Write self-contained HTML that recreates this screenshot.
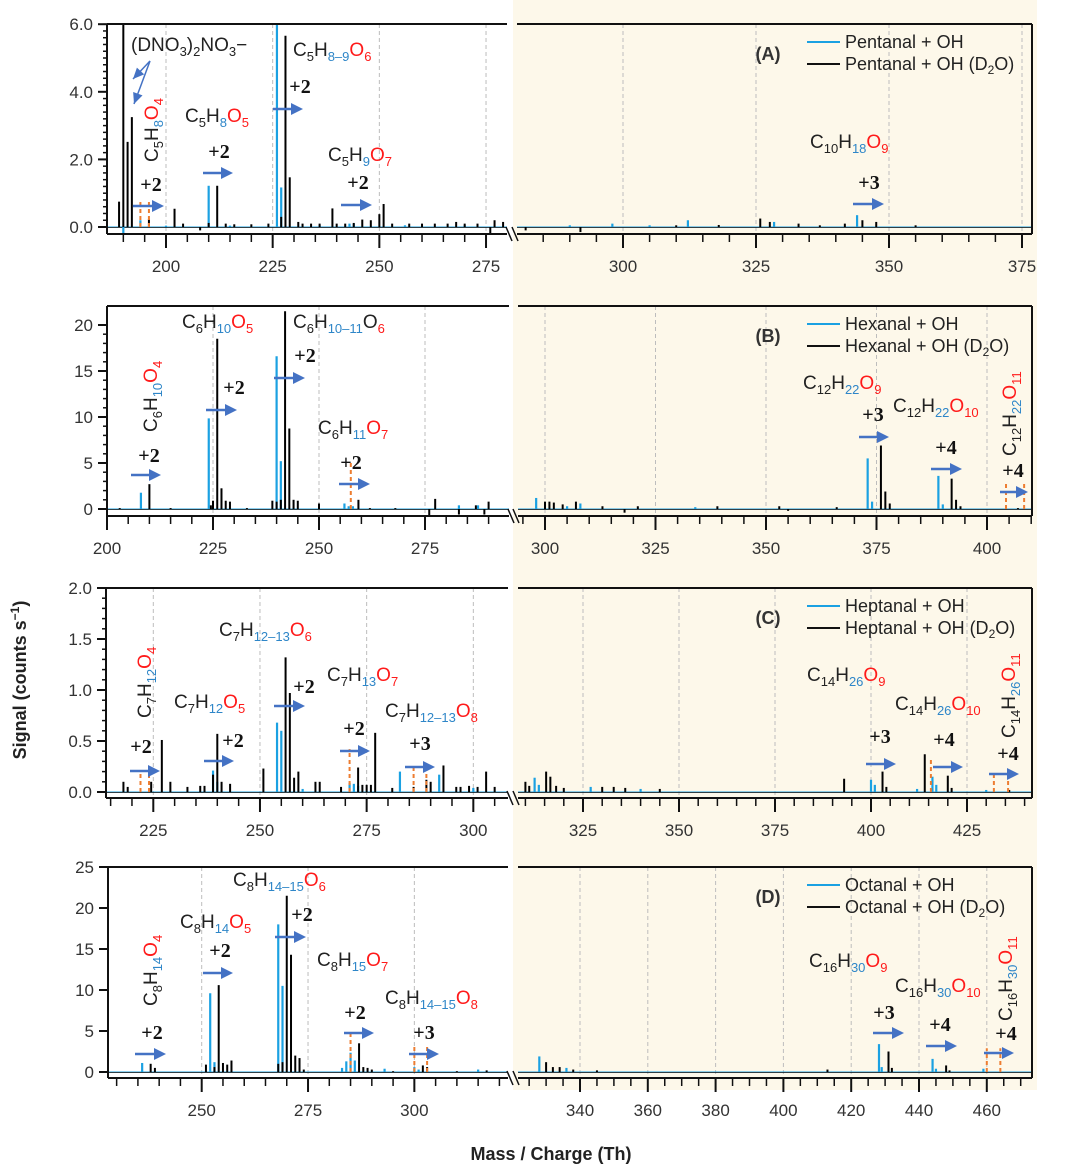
<!DOCTYPE html>
<html><head><meta charset="utf-8">
<style>
html,body{margin:0;padding:0;background:#fff;}
svg{display:block;font-family:"Liberation Sans",sans-serif;}
.tk{font-size:17px;fill:#333;}
.pl{font-family:"Liberation Serif",serif;font-size:20px;font-weight:bold;fill:#111;}
.lg{font-size:18px;fill:#222;}
</style></head>
<body>
<svg id="chart" width="1077" height="1164" viewBox="0 0 1077 1164" xmlns="http://www.w3.org/2000/svg">
<rect x="513" y="0" width="524" height="1090" fill="#FDF8EA"/>
<g id="layer"></g>
<text x="0" y="0" transform="translate(26,680) rotate(-90)" text-anchor="middle" font-size="18" font-weight="bold" fill="#222">Signal (counts s<tspan font-size="12" dy="-7">−1</tspan><tspan dy="7">)</tspan></text>
<text x="551" y="1160" text-anchor="middle" font-size="18" font-weight="bold" fill="#222">Mass / Charge (Th)</text>
</svg>
<script>
// ===== DATA (mass, signal) =====
const aLeftBlue=[[190,-0.25],[194,0.2],[210,1.22],[226,6.2],[227,1.17],[243,0.1],[244,0.1],[200,0.04],[215,0.04],[236,0.05],[256,0.05],[270,0.05]];
const aLeftBlack=[[189,0.75],[190,6.5],[191,2.52],[192,3.25],[196,0.24],[202,0.54],[208,-0.1],[212,1.22],[227,0.3],[228,5.66],[229,1.47],[231,0.15],[239,0.55],[246,0.22],[248,0.2],[250,0.38],[251,0.68],[276,-0.3],[277,0.2],[204,0.1],[210,0.12],[214,0.1],[216,0.08],[220,0.08],[224,0.1],[232,0.1],[234,0.1],[236,0.1],[240,0.1],[242,0.1],[244,0.12],[253,0.1],[257,0.1],[260,0.1],[263,0.1],[266,0.1],[268,0.15],[270,0.1],[273,0.1],[279,0.15]];
const aRightBlue=[[298,0.1],[312.2,0.2],[328.4,0.15],[344,0.35],[290,0.05],[305,0.05]];
const aRightBlack=[[281.7,-0.1],[292,-0.15],[325.8,0.25],[327.6,0.15],[333,0.1],[341.7,0.1],[345,0.2],[347.6,0.15],[310,0.05],[318,0.06],[337,0.05],[355,0.05]];
const bLeftBlue=[[208,1.77],[224,9.85],[240,16.6],[241,5.2],[256,0.6],[257,0.3],[258,0.3],[283,0.4],[287.5,0.4]];
const bLeftBlack=[[210,2.7],[224.5,0.4],[225,0.9],[226,18.5],[227,2.25],[228,0.9],[229,0.8],[239,0.9],[240,0.8],[241,1.0],[242,21.5],[243,8.75],[244,1.0],[245,0.9],[250,0.6],[259.3,1.0],[276,-0.8],[277.4,1.1],[283,-0.6],[287,0.4],[289,-0.6],[290,0.8],[203,0.1],[215,0.1],[233,0.1],[262,0.1],[268,0.1]];
const bRightBlue=[[298,1.2],[308,0.6],[373,5.5],[374,0.8],[389,3.6],[390,0.5],[305,0.3],[334,0.2]];
const bRightBlack=[[300,0.8],[301,0.8],[302,0.7],[304,0.5],[307,0.8],[313,0.3],[318,-0.4],[321,0.3],[339,0.3],[353,0.3],[355,-0.2],[366,0.2],[376,6.9],[377,1.9],[378,0.6],[392,3.3],[393,1.0],[394,0.3],[407,0.1]];
const cLeftBlue=[[239,0.21],[240,0.1],[254,0.68],[255,0.6],[271,0.09],[272,0.08],[273,0.06],[282.8,0.2],[292,0.17],[260,0.03],[300,0.04]];
const cLeftBlack=[[218,0.1],[219,0.05],[224.5,0.1],[227,0.51],[229,0.1],[233,0.05],[236,0.06],[237,0.06],[239,0.17],[240,0.57],[241,0.1],[243,0.08],[250.8,0.23],[256,1.32],[257,0.97],[258,0.14],[259,0.2],[263,0.1],[264,0.1],[269,0.05],[273,0.24],[274,0.07],[275,0.07],[276,0.07],[277,0.58],[281,0.04],[286,0.05],[289,0.12],[290,0.1],[293,0.26],[296,0.05],[297,0.05],[299,0.06],[301,0.05],[303,0.2],[305,0.05]];
const cRightBlue=[[312.4,0.14],[313.5,0.07],[327,0.05],[340,0.03],[400,0.12],[401,0.07],[412,0.03],[416,0.15],[417,0.07],[430,0.02]];
const cRightBlack=[[310,0.1],[311,0.06],[315.4,0.2],[316.5,0.15],[318,0.06],[320,0.04],[330,0.05],[333,0.05],[336,0.04],[345,0.03],[393,0.13],[403,0.2],[404,0.05],[414,0.37],[420,0.16],[421,0.04],[436,0.02]];
const dLeftBlue=[[236,1.1],[252,9.6],[253,1.2],[268,18],[269,10.5],[283,0.5],[284,1.3],[285,2.35],[286,1.4],[293,0.4],[300,0.6],[301,0.3],[315,0.3]];
const dLeftBlack=[[238,1.0],[239,0.5],[251,0.9],[253,0.6],[254,10.6],[255,1.1],[256,0.9],[257,1.4],[268,1.0],[269,1.2],[270,21.5],[271,14.3],[272,2.0],[273,1.7],[274,0.3],[287,3.5],[288,0.6],[289,0.5],[290,0.3],[302,0.8],[303,0.6],[317,0.2],[295,0.1],[310,0.1]];
const dRightBlue=[[328,1.9],[336,0.5],[428.2,3.4],[429,0.6],[444,1.6],[445,0.4],[459,0.4]];
const dRightBlack=[[330,1.2],[332,0.6],[334,0.6],[338,0.3],[345,0.2],[413,0.3],[431,2.5],[432,0.5],[448,0.8],[449,0.2]];
// tick label arrays
const aYTicks=[0,2,4,6], aYLabels=["0.0","2.0","4.0","6.0"];
const bYTicks=[0,5,10,15,20], bYLabels=["0","5","10","15","20"];
const cYTicks=[0,0.5,1,1.5,2], cYLabels=["0.0","0.5","1.0","1.5","2.0"];
const dYTicks=[0,5,10,15,20,25], dYLabels=["0","5","10","15","20","25"];
const aLeftX=[200,225,250,275], aRightX=[300,325,350,375];
const bLeftX=[200,225,250,275], bRightX=[300,325,350,375,400];
const cLeftX=[225,250,275,300], cRightX=[325,350,375,400,425];
const dLeftX=[250,275,300], dRightX=[340,360,380,400,420,440,460];
// orange dashed markers [mass, top value]
const aLeftMarks=[[194,0.8],[196,0.8]];
const bLeftMarks=[[257.5,5]], bRightMarks=[[404.3,2.8],[408.4,2.8]];
const cLeftMarks=[[222,0.21],[224,0.21],[271,0.42],[286,0.25],[289,0.22]], cRightMarks=[[415.6,0.33],[432,0.2],[435.7,0.2]];
const dLeftMarks=[[285,4.9],[300,3.2],[303,3.2]], dRightMarks=[[460,2.9],[464,2.9]];

// ===== LAYOUT =====
const NS="http://www.w3.org/2000/svg";
const layer=document.getElementById('layer');
function el(tag,attrs,parent){const e=document.createElementNS(NS,tag);for(const k in attrs)e.setAttribute(k,attrs[k]);(parent||layer).appendChild(e);return e;}
const BLUE="#1BA1E2", ORANGE="#ED7D31", ARROW="#4472C4";

const panels=[
 {n:'a',top:24,zero:227,axisY:234,ppu:33.8,yt:aYTicks,yl:aYLabels,ymin:0.2,
  L:{x0:107,x1:507,rm:200,rx:166,ppm:4.267,ticks:aLeftX,blue:aLeftBlue,black:aLeftBlack,marks:aLeftMarks},
  R:{x0:517,x1:1032,rm:300,rx:623,ppm:5.32,ticks:aRightX,blue:aRightBlue,black:aRightBlack,marks:[]}},
 {n:'b',top:306,zero:509,axisY:516,ppu:9.2,yt:bYTicks,yl:bYLabels,ymin:1,
  L:{x0:107,x1:509,rm:200,rx:107,ppm:4.24,ticks:bLeftX,blue:bLeftBlue,black:bLeftBlack,marks:bLeftMarks},
  R:{x0:518,x1:1032,rm:300,rx:545,ppm:4.42,ticks:bRightX,blue:bRightBlue,black:bRightBlack,marks:bRightMarks}},
 {n:'c',top:588,zero:792,axisY:798,ppu:102,yt:cYTicks,yl:cYLabels,ymin:0.1,
  L:{x0:106,x1:508,rm:225,rx:153.3,ppm:4.267,ticks:cLeftX,blue:cLeftBlue,black:cLeftBlack,marks:cLeftMarks},
  R:{x0:518,x1:1032,rm:325,rx:583,ppm:3.84,ticks:cRightX,blue:cRightBlue,black:cRightBlack,marks:cRightMarks}},
 {n:'d',top:867,zero:1072,axisY:1078,ppu:8.2,yt:dYTicks,yl:dYLabels,ymin:0,
  L:{x0:108,x1:508,rm:250,rx:201.7,ppm:4.253,ticks:dLeftX,blue:dLeftBlue,black:dLeftBlack,marks:dLeftMarks},
  R:{x0:518,x1:1032,rm:340,rx:580,ppm:3.39,ticks:dRightX,blue:dRightBlue,black:dRightBlack,marks:dRightMarks}}
];

panels.forEach(p=>{
  const g=el('g',{});
  
  
  const yS=v=>p.zero-v*p.ppu;
  ['L','R'].forEach(side=>{
    const s=p[side];
    const xS=m=>s.rx+(m-s.rm)*s.ppm;
    const m0=s.rm+(s.x0-s.rx)/s.ppm, m1=s.rm+(s.x1-s.rx)/s.ppm;
    s.ticks.forEach(t=>{const x=xS(t);
      const gl=el('line',{x1:x,x2:x,y1:p.top,y2:p.axisY,stroke:'#bdbdbd','stroke-width':1,'stroke-dasharray':'4,3'},g);
      
      
    });
    el('line',{x1:s.x0,x2:s.x1,y1:p.zero,y2:p.zero,stroke:BLUE,'stroke-width':1},g);
    el('line',{x1:s.x0,x2:s.x1,y1:p.zero+0.5,y2:p.zero+0.5,stroke:'#111','stroke-width':0.8},g);
    const bar=(arr,color,w,nm)=>arr.forEach(d=>{
      if(d[0]<m0||d[0]>m1)return;
      const x=xS(d[0]);let y=yS(d[1]);y=Math.max(p.top,Math.min(p.axisY,y));
      const b=el('line',{x1:x,x2:x,y1:p.zero,y2:y,stroke:color,'stroke-width':w},g);
      
      
    });
    bar(s.blue,BLUE,2.2,'oh');
    bar(s.black,'#000',2,'oh-d2o');
    s.marks.forEach(d=>{const x=xS(d[0]);
      const mk=el('line',{x1:x,x2:x,y1:p.zero,y2:yS(d[1]),stroke:ORANGE,'stroke-width':2,'stroke-dasharray':'4,3'},g);
      
      
    });
    const ax=el('line',{x1:s.x0,x2:s.x1,y1:p.axisY,y2:p.axisY,stroke:'#111','stroke-width':2},g);
    
    
    el('line',{x1:s.x0,x2:s.x1,y1:p.top,y2:p.top,stroke:'#111','stroke-width':2},g);
    for(let m=Math.ceil(m0/5)*5;m<=m1;m+=5){const x=xS(m);
      const major=s.ticks.indexOf(m)>=0;
      el('line',{x1:x,x2:x,y1:p.axisY,y2:p.axisY+(major?14:8),stroke:'#111','stroke-width':major?2:1.5},g);}
    s.ticks.forEach((t,i)=>{
      const tl=el('text',{x:xS(t),y:p.axisY+38,'text-anchor':'middle',class:'tk'},g);
      tl.textContent=String(t);
      
      
    });
  });
  const x0=p.L.x0;
  const ya=el('line',{x1:x0,x2:x0,y1:p.top,y2:p.axisY,stroke:'#111','stroke-width':2},g);
  
  
  el('line',{x1:p.R.x1,x2:p.R.x1,y1:p.top,y2:p.axisY,stroke:'#111','stroke-width':2},g);
  const ymax=p.yt[p.yt.length-1];
  if(p.ymin>0){for(let v=0;v<=ymax+1e-9;v+=p.ymin){el('line',{x1:x0-4,x2:x0,y1:yS(v),y2:yS(v),stroke:'#111','stroke-width':1.5},g);}}
  p.yt.forEach((v,i)=>{
    el('line',{x1:x0-9,x2:x0,y1:yS(v),y2:yS(v),stroke:'#111','stroke-width':2},g);
    const t=el('text',{x:x0-14,y:yS(v)+6,'text-anchor':'end',class:'tk'},g);
    t.textContent=p.yl[i];
    
    
  });
  [p.L.x1+2,p.R.x0-2].forEach(bx=>{el('line',{x1:bx-3,x2:bx+3,y1:p.axisY-7,y2:p.axisY+7,stroke:'#111','stroke-width':1.5},g);});
});

// ===== ANNOTATIONS =====
const COL={k:'#222',b:'#2E86C8',r:'#FF1A1A'};
function fm(x,y,toks,rot,name){
  const t=el('text',{x:0,y:0,'font-size':19,transform:rot?`translate(${x},${y}) rotate(-90)`:`translate(${x},${y})`});
  
  
  let sub=false;
  toks.forEach(k=>{const s=el('tspan',{fill:COL[k[2]||'k']},t);
    if(k[1]&&!sub){s.setAttribute('dy',5);s.setAttribute('font-size',13);sub=true;}
    else if(k[1]){s.setAttribute('font-size',13);}
    else if(!k[1]&&sub){s.setAttribute('dy',-5);sub=false;}
    s.textContent=k[0];});
}
function F(c,h,o,hc,oc,ocSub){return [["C"],[c,1],["H"],[h,1,hc||'b'],["O",0,oc||'r'],[o,1,ocSub||'r']];}
fm(158,162,F("5","8","4"),true,'label-c5h8o4');
fm(185,122,F("5","8","5"),false,'label-c5h8o5');
fm(293,56,F("5","8–9","6"),false,'label-c5h8-9o6');
fm(328,161,F("5","9","7"),false,'label-c5h9o7');
fm(810,148,F("10","18","9"),false,'label-c10h18o9');
fm(182,328,F("6","10","5"),false,'label-c6h10o5');
fm(293,328,F("6","10–11","6",'b','k'),false,'label-c6h10-11o6');
fm(157,432,F("6","10","4"),true,'label-c6h10o4');
fm(318,434,F("6","11","7"),false,'label-c6h11o7');
fm(803,389,F("12","22","9"),false,'label-c12h22o9');
fm(893,412,F("12","22","10"),false,'label-c12h22o10');
fm(1016,456,F("12","22","11"),true,'label-c12h22o11');
fm(151,718,F("7","12","4"),true,'label-c7h12o4');
fm(174,708,F("7","12","5"),false,'label-c7h12o5');
fm(219,636,F("7","12–13","6"),false,'label-c7h12-13o6');
fm(327,681,F("7","13","7"),false,'label-c7h13o7');
fm(385,717,F("7","12–13","8"),false,'label-c7h12-13o8');
fm(807,681,F("14","26","9"),false,'label-c14h26o9');
fm(895,710,F("14","26","10"),false,'label-c14h26o10');
fm(1015,738,F("14","26","11"),true,'label-c14h26o11');
fm(157,1006,F("8","14","4"),true,'label-c8h14o4');
fm(180,928,F("8","14","5"),false,'label-c8h14o5');
fm(233,886,F("8","14–15","6"),false,'label-c8h14-15o6');
fm(317,966,F("8","15","7"),false,'label-c8h15o7');
fm(385,1004,F("8","14–15","8"),false,'label-c8h14-15o8');
fm(809,967,F("16","30","9"),false,'label-c16h30o9');
fm(895,992,F("16","30","10"),false,'label-c16h30o10');
fm(1012,1021,F("16","30","11"),true,'label-c16h30o11');
fm(131,51,[["(DNO"],["3",1],[")"],["2",1],["NO"],["3",1],["−",0]],false,'label-dno3-cluster');

const arrows=[[133,164,206],[203,233,173],[273,303,109],[341,372,205],[853,884,204],
 [131,161,475],[206,237,410],[274,305,378],[339,370,484],[859,889,437],[931,962,469],[1000,1028,492],
 [130,160,771],[204,234,761],[274,305,706],[340,370,751],[405,435,767],[866,896,764],[933,963,767],[989,1019,774],
 [135,166,1054],[203,233,973],[275,306,937],[344,374,1033],[409,439,1054],[873,904,1033],[926,957,1046],[984,1014,1053]];
arrows.forEach(a=>{
  const l=el('line',{x1:a[0],x2:a[1]-10,y1:a[2],y2:a[2],stroke:ARROW,'stroke-width':2.5});
  
  
  el('polygon',{points:`${a[1]-12},${a[2]-6} ${a[1]},${a[2]} ${a[1]-12},${a[2]+6}`,fill:ARROW});
});
const shifts=[[151,191,"2"],[219,158,"2"],[300,93,"2"],[358,189,"2"],[869,189,"3"],
 [149,462,"2"],[234,394,"2"],[305,362,"2"],[351,469,"2"],[873,421,"3"],[946,454,"4"],[1013,477,"4"],
 [141,753,"2"],[233,747,"2"],[304,693,"2"],[354,735,"2"],[420,750,"3"],[880,743,"3"],[944,746,"4"],[1008,760,"4"],
 [152,1039,"2"],[220,957,"2"],[302,921,"2"],[355,1019,"2"],[424,1039,"3"],[884,1019,"3"],[940,1031,"4"],[1006,1040,"4"]];
shifts.forEach(s=>{
  const t=el('text',{x:s[0],y:s[1],'text-anchor':'middle',class:'pl'});
  t.textContent='+'+s[2];
  
  
});
[[150,61,133,79],[150,61,134,104]].forEach(a=>{
  const l=el('line',{x1:a[0],y1:a[1],x2:a[2],y2:a[3],stroke:ARROW,'stroke-width':1.5});
  
  
  const ang=Math.atan2(a[3]-a[1],a[2]-a[0]),L=11,W=5;
  const bx=a[2]-L*Math.cos(ang),by=a[3]-L*Math.sin(ang);
  el('polygon',{points:`${a[2]},${a[3]} ${bx+W*Math.sin(ang)},${by-W*Math.cos(ang)} ${bx-W*Math.sin(ang)},${by+W*Math.cos(ang)}`,fill:ARROW});
});
const legends=[['A','Pentanal',24],['B','Hexanal',306],['C','Heptanal',588],['D','Octanal',867]];
legends.forEach(L=>{
  const y0=L[2];
  const tag=el('text',{x:768,y:y0+36,'text-anchor':'middle','font-size':18,'font-weight':'bold',fill:'#333'});
  tag.textContent='('+L[0]+')';
  
  
  el('line',{x1:807,x2:840,y1:y0+18,y2:y0+18,stroke:BLUE,'stroke-width':2});
  el('line',{x1:807,x2:840,y1:y0+40,y2:y0+40,stroke:'#111','stroke-width':2});
  const t1=el('text',{x:845,y:y0+24,class:'lg'});
  t1.textContent=L[1]+' + OH';
  
  
  const t2=el('text',{x:845,y:y0+46,class:'lg'});
  
  
  t2.appendChild(document.createTextNode(L[1]+' + OH (D'));
  const s=el('tspan',{'font-size':12,dy:4},t2);s.textContent='2';
  const s2=el('tspan',{dy:-4},t2);s2.textContent='O)';
});
</script>
</body></html>
